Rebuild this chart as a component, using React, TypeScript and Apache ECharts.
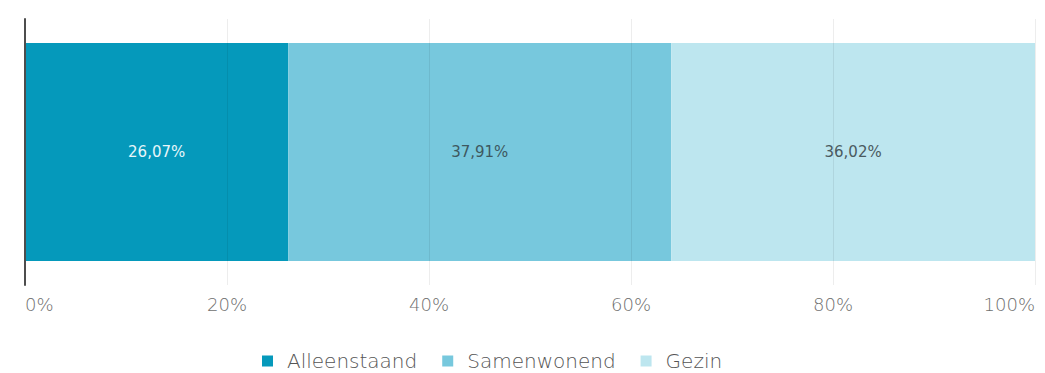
import React, { useEffect, useRef } from "react";
import * as echarts from "echarts";

const categories = ["Huishoudens"];
const seriesNames = ["Alleenstaand", "Samenwonend", "Gezin"];
const seriesValues = [[26.07], [37.91], [36.02]];
const seriesColors = ["#0599bb", "#77c8dd", "#bde6ef"];
const labelColors = ["#e8f6fa", "#3e5860", "#4a5a60"];
const xTicks = [0, 20, 40, 60, 80, 100];

export default function App() {
  const ref = useRef<HTMLDivElement>(null);
  useEffect(() => {
    if (!ref.current) return;
    const chart = echarts.init(ref.current, undefined, { renderer: "svg" });
    const font = "'DejaVu Sans', sans-serif";
    chart.setOption({
      animation: false,
      backgroundColor: "#ffffff",
      grid: { left: 25, right: 10, top: 19, bottom: 88, containLabel: false },
      xAxis: {
        type: "value",
        min: xTicks[0],
        max: xTicks[xTicks.length - 1],
        interval: 20,
        z: 3,
        axisLine: { show: false },
        axisTick: { show: false },
        splitLine: { show: true, lineStyle: { color: "rgba(0,0,0,0.07)", width: 1 } },
        axisLabel: {
          formatter: "{value}%",
          color: "#6f6f6f",
          fontSize: 18,
          fontWeight: 200,
          fontFamily: font,
          margin: 10,
          alignMinLabel: "left",
          alignMaxLabel: "right",
        },
      },
      yAxis: {
        type: "category",
        data: categories,
        z: 4,
        axisLine: { show: true, lineStyle: { color: "#4d4d4d", width: 2 } },
        axisTick: { show: false },
        axisLabel: { show: false },
      },
      legend: {
        data: seriesNames,
        left: 257,
        top: 346,
        icon: "rect",
        itemWidth: 11,
        itemHeight: 11,
        itemGap: 25,
        textStyle: {
          color: "#555555",
          fontSize: 20,
          fontWeight: 200,
          fontFamily: font,
          padding: [0, 0, 0, 9],
        },
      },
      series: seriesNames.map((name, i) => ({
        name,
        type: "bar",
        stack: "total",
        barWidth: 218,
        data: seriesValues[i],
        itemStyle: { color: seriesColors[i] },
        label: {
          show: true,
          position: "inside",
          formatter: (p: any) => p.value.toFixed(2).replace(".", ",") + "%",
          color: labelColors[i],
          fontSize: 15,
          fontFamily: font,
        },
      })),
    });
    return () => chart.dispose();
  }, []);
  return (
    <div
      ref={ref}
      style={{ position: "fixed", left: 0, top: 0, width: 1045, height: 373 }}
    />
  );
}
